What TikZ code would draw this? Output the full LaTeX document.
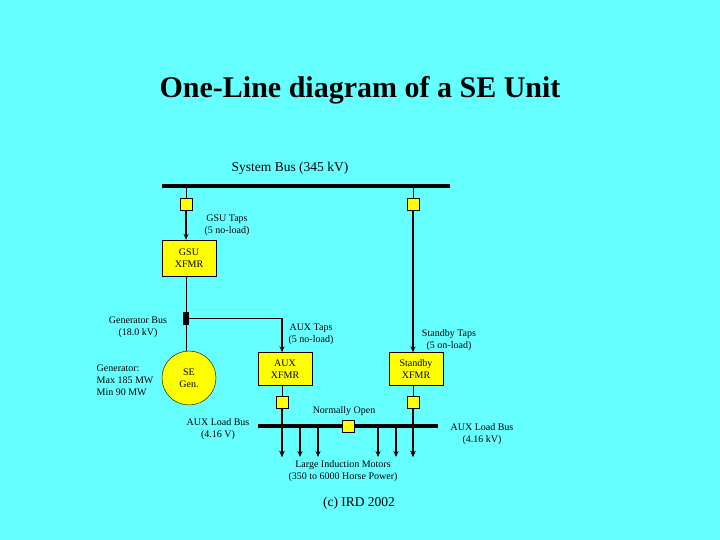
\documentclass[tikz,border=0pt]{standalone}
\usepackage{fontspec}
\setmainfont{Liberation Serif}
\usetikzlibrary{arrows.meta}
\definecolor{bg}{HTML}{66FFFF}
\definecolor{yel}{HTML}{FFFF00}
\begin{document}
\begin{tikzpicture}[x=1pt,y=-1pt,
  box/.style={draw,fill=yel,minimum width=54pt,minimum height=33pt,inner sep=0pt,align=center,font=\fontsize{10}{12}\selectfont},
  brk/.style={draw,fill=yel,minimum size=12pt,inner sep=0pt},
  lbl/.style={font=\fontsize{10}{12}\selectfont,align=center,inner sep=0pt},
  bus/.style={line width=4pt},
  arr/.style={line width=1.5pt,-{Stealth[length=6pt,width=5pt]}},
  ln/.style={line width=1pt}]
\fill[bg] (0,0) rectangle (720,540);
\node[font=\fontsize{30}{34}\selectfont\bfseries] (title) at (360,90) {One-Line diagram of a SE Unit};
\node[lbl,font=\fontsize{13.5}{15}\selectfont] (sbl) at (290,168) {System Bus (345 kV)};
\coordinate (sb1) at (162,186); \coordinate (sb2) at (450,186);
\draw[bus] (sb1) -- (sb2);
\coordinate (g0) at (186,186); \coordinate (s0) at (413,186);
\node[brk] (gb) at (186,204) {};
\node[brk] (sbk) at (413,204) {};
\node[box,minimum width=54pt,minimum height=36pt] (gsu) at (189,258) {GSU\\XFMR};
\draw[ln] (g0) -- (gb);
\draw[arr] (gb) -- (gb|-gsu.north);
\node[lbl] (gsut) at (227,225) {GSU Taps\\(5 no-load)};
\node[draw,fill=black,minimum width=5pt,minimum height=12pt,inner sep=0pt] (genbus) at (186,318) {};
\draw[ln] (gsu.south-|genbus) -- (genbus);
\node[lbl] (gbl) at (138,327) {Generator Bus\\(18.0 kV)};
\node[circle,draw,fill=yel,minimum size=54pt,inner sep=0pt,font=\fontsize{10}{12}\selectfont,align=center] (gen) at (189,378) {SE\\Gen.};
\draw[ln] (genbus) -- (genbus|-gen.north);
\node[lbl,align=left] (genl) at (125,380) {Generator:\\Max 185 MW\\Min 90 MW};
\node[box] (aux) at (285,369) {AUX\\XFMR};
\coordinate (ac) at (282,318);
\draw[ln] (genbus) -- (ac);
\draw[arr] (ac) -- (ac|-aux.north);
\node[lbl] (auxt) at (311,334) {AUX Taps\\(5 no-load)};
\node[box] (stb) at (416,369) {Standby\\XFMR};
\draw[ln] (s0) -- (sbk);
\draw[arr] (sbk) -- (sbk|-stb.north);
\node[lbl] (stbt) at (449,340) {Standby Taps\\(5 on-load)};
\node[brk] (ab) at (282,402) {};
\node[brk] (sb) at (413,402) {};
\draw[ln] (aux.south-|ab) -- (ab);
\draw[ln] (stb.south-|sb) -- (sb);
\coordinate (lb1) at (258,426); \coordinate (lb2) at (438,426);
\draw[bus] (lb1) -- (lb2);
\node[brk] (no) at (348,426) {};
\node[lbl] (nol) at (344,411) {Normally Open};
\foreach \x/\n in {282/m1,300/m2,318/m3,378/m4,396/m5,413/m6}{
  \coordinate (\n a) at (\x,426); \coordinate (\n) at (\x,457);
  \draw[arr] (\n a) -- (\n);}
\draw[arr] (ab) -- (m1);
\draw[arr] (sb) -- (m6);
\node[lbl] (all) at (218,429) {AUX Load Bus\\(4.16 V)};
\node[lbl] (alr) at (482,434) {AUX Load Bus\\(4.16 kV)};
\node[lbl] (lim) at (343,471) {Large Induction Motors\\(350 to 6000 Horse Power)};
\node[lbl,font=\fontsize{13.5}{15}\selectfont] (cp) at (359,503) {(c) IRD 2002};
\end{tikzpicture}
\end{document}
